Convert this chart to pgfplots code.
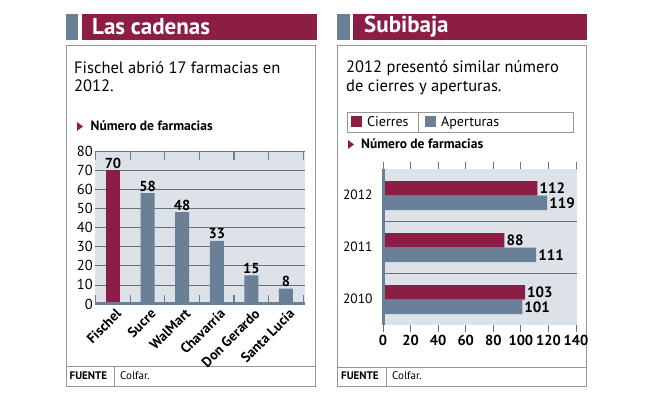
\documentclass[border=0pt]{standalone}
\usepackage{pgfplots}
\pgfplotsset{compat=1.18}
\usepackage{fontspec}
\setmainfont{PT Sans}
\definecolor{crim}{RGB}{140,30,70}
\definecolor{slate}{RGB}{106,128,150}
\definecolor{bgc}{RGB}{221,226,232}
\definecolor{gridc}{RGB}{105,113,123}
\definecolor{boxc}{RGB}{150,150,150}
\newcommand{\fs}[1]{\fontsize{#1}{#1}\selectfont}
\begin{document}
\begin{tikzpicture}[x=1pt,y=1pt]
\fill[white] (0,0) rectangle (653,398);
\path[use as bounding box] (0,0) rectangle (653,398);
% ---------- left panel ----------
\fill[slate] (66,358) rectangle (78,384);
\fill[crim] (82,358) rectangle (317,384);
\node[anchor=west, text=white, font=\fs{23}\bfseries, inner sep=0] at (92,371) {Las cadenas};
\draw[boxc, line width=0.8] (66,12) rectangle (315,353);
\draw[boxc, line width=0.8] (66,32) -- (315,32);
\draw[boxc, line width=0.8] (114,12) -- (114,32);
\node[anchor=base west, font=\fs{11}\bfseries, inner sep=0] at (69.5,18) {FUENTE};
\node[anchor=base west, font=\fs{11}, inner sep=0] at (120,18) {Colfar.};
\node[anchor=base west, font=\fs{16.5}, inner sep=0] at (74,324) {Fischel abrió 17 farmacias en};
\node[anchor=base west, font=\fs{16.5}, inner sep=0] at (74,306) {2012.};
\fill[crim] (77,267) -- (83,271.5) -- (77,276) -- cycle;
\node[anchor=base west, font=\fs{13.5}\bfseries, inner sep=0] at (90.5,267) {Número de farmacias};
\begin{axis}[
  at={(95pt,94pt)}, anchor=south west, scale only axis, width=210pt, height=153pt,
  xmin=-0.52, xmax=5.55, ymin=0, ymax=80,
  ybar, bar width=14pt, bar shift=0pt,
  axis background/.style={fill=bgc},
  axis line style={draw=none},
  ytick={0,10,...,80}, ymajorgrids, grid style={gridc, line width=0.7pt},
  ytick style={draw=none},
  xtick={0,...,5}, xticklabels={Fischel,Sucre,WalMart,Chavarría,Don Gerardo,Santa Lucía},
  xtick style={draw=none},
  extra x ticks={-0.5,0.5,...,5.5}, extra x tick labels={},
  extra x tick style={xtick style={draw=slate, line width=1.2pt}, major tick length=9pt, tick align=inside},
  yticklabel style={font=\fs{14.5}, inner sep=2pt},
  xticklabel style={font=\fs{14}\bfseries, rotate=45, anchor=north east, inner sep=1pt, xshift=3pt},
  nodes near coords, every node near coord/.append style={font=\fs{14.5}\bfseries, inner sep=1.5pt, text=black},
  /pgf/number format/assume math mode=true,
  clip=false,
]
\addplot[fill=crim, draw=none] coordinates {(0,70)};
\addplot[fill=slate, draw=none] coordinates {(1,58) (2,48) (3,33) (4,15) (5,8)};
\draw[slate, line width=3pt] (rel axis cs:0,0) -- (rel axis cs:1,0);
\end{axis}
% ---------- right panel ----------
\fill[slate] (337,358) rectangle (350,384);
\fill[crim] (353,358) rectangle (587,384);
\node[anchor=west, text=white, font=\fs{23}\bfseries, inner sep=0] at (364,371) {Subibaja};
\draw[boxc, line width=0.8] (337,12) rectangle (586,353);
\draw[boxc, line width=0.8] (337,31) -- (586,31);
\draw[boxc, line width=0.8] (386,12) -- (386,31);
\node[anchor=base west, font=\fs{11}\bfseries, inner sep=0] at (341,18) {FUENTE};
\node[anchor=base west, font=\fs{11}, inner sep=0] at (392,18) {Colfar.};
\node[anchor=base west, font=\fs{16.5}, inner sep=0] at (346,325) {2012 presentó similar número};
\node[anchor=base west, font=\fs{16.5}, inner sep=0] at (346,306) {de cierres y aperturas.};
\draw[boxc, line width=0.8] (347,266) rectangle (573,286);
\draw[boxc, line width=0.8] (418,266) -- (418,286);
\fill[crim] (351,271) rectangle (362,282);
\node[anchor=base west, font=\fs{14}, inner sep=0] at (367,271) {Cierres};
\fill[slate] (425,271) rectangle (436,282);
\node[anchor=base west, font=\fs{14}, inner sep=0] at (441,271) {Aperturas};
\fill[crim] (348,249) -- (354,253.5) -- (348,258) -- cycle;
\node[anchor=base west, font=\fs{13.5}\bfseries, inner sep=0] at (361,249) {Número de farmacias};
\begin{axis}[
  at={(383pt,73pt)}, anchor=south west, scale only axis, width=194pt, height=156pt,
  xbar, bar width=14.5pt,
  xmin=0, xmax=140.7, ymin=-0.5, ymax=2.5,
  axis background/.style={fill=bgc},
  axis line style={draw=none},
  xtick={0,20,...,140}, xtick style={draw=gridc, line width=0.8pt}, tick align=outside, major tick length=7pt,
  xticklabel style={font=\fs{14.5}\bfseries},
  ytick={0,1,2}, yticklabels={2010,2011,2012}, ytick style={draw=none},
  yticklabel style={font=\fs{13.5}},
  extra y ticks={0.5,1.5}, extra y tick labels={},
  extra y tick style={ymajorgrids=true, grid style={gridc, line width=0.8pt}},
  nodes near coords, every node near coord/.append style={font=\fs{15}\bfseries, inner sep=2pt, text=black},
  /pgf/number format/assume math mode=true,
  clip=false,
]
\addplot[fill=crim, draw=none, bar shift=6.5pt] coordinates {(103,0) (88,1) (112,2)};
\addplot[fill=slate, draw=none, bar shift=-8pt] coordinates {(101,0) (111,1) (119,2)};
\draw[slate, line width=3pt] (rel axis cs:0,0) -- (rel axis cs:0,1);
\end{axis}
\end{tikzpicture}
\end{document}
